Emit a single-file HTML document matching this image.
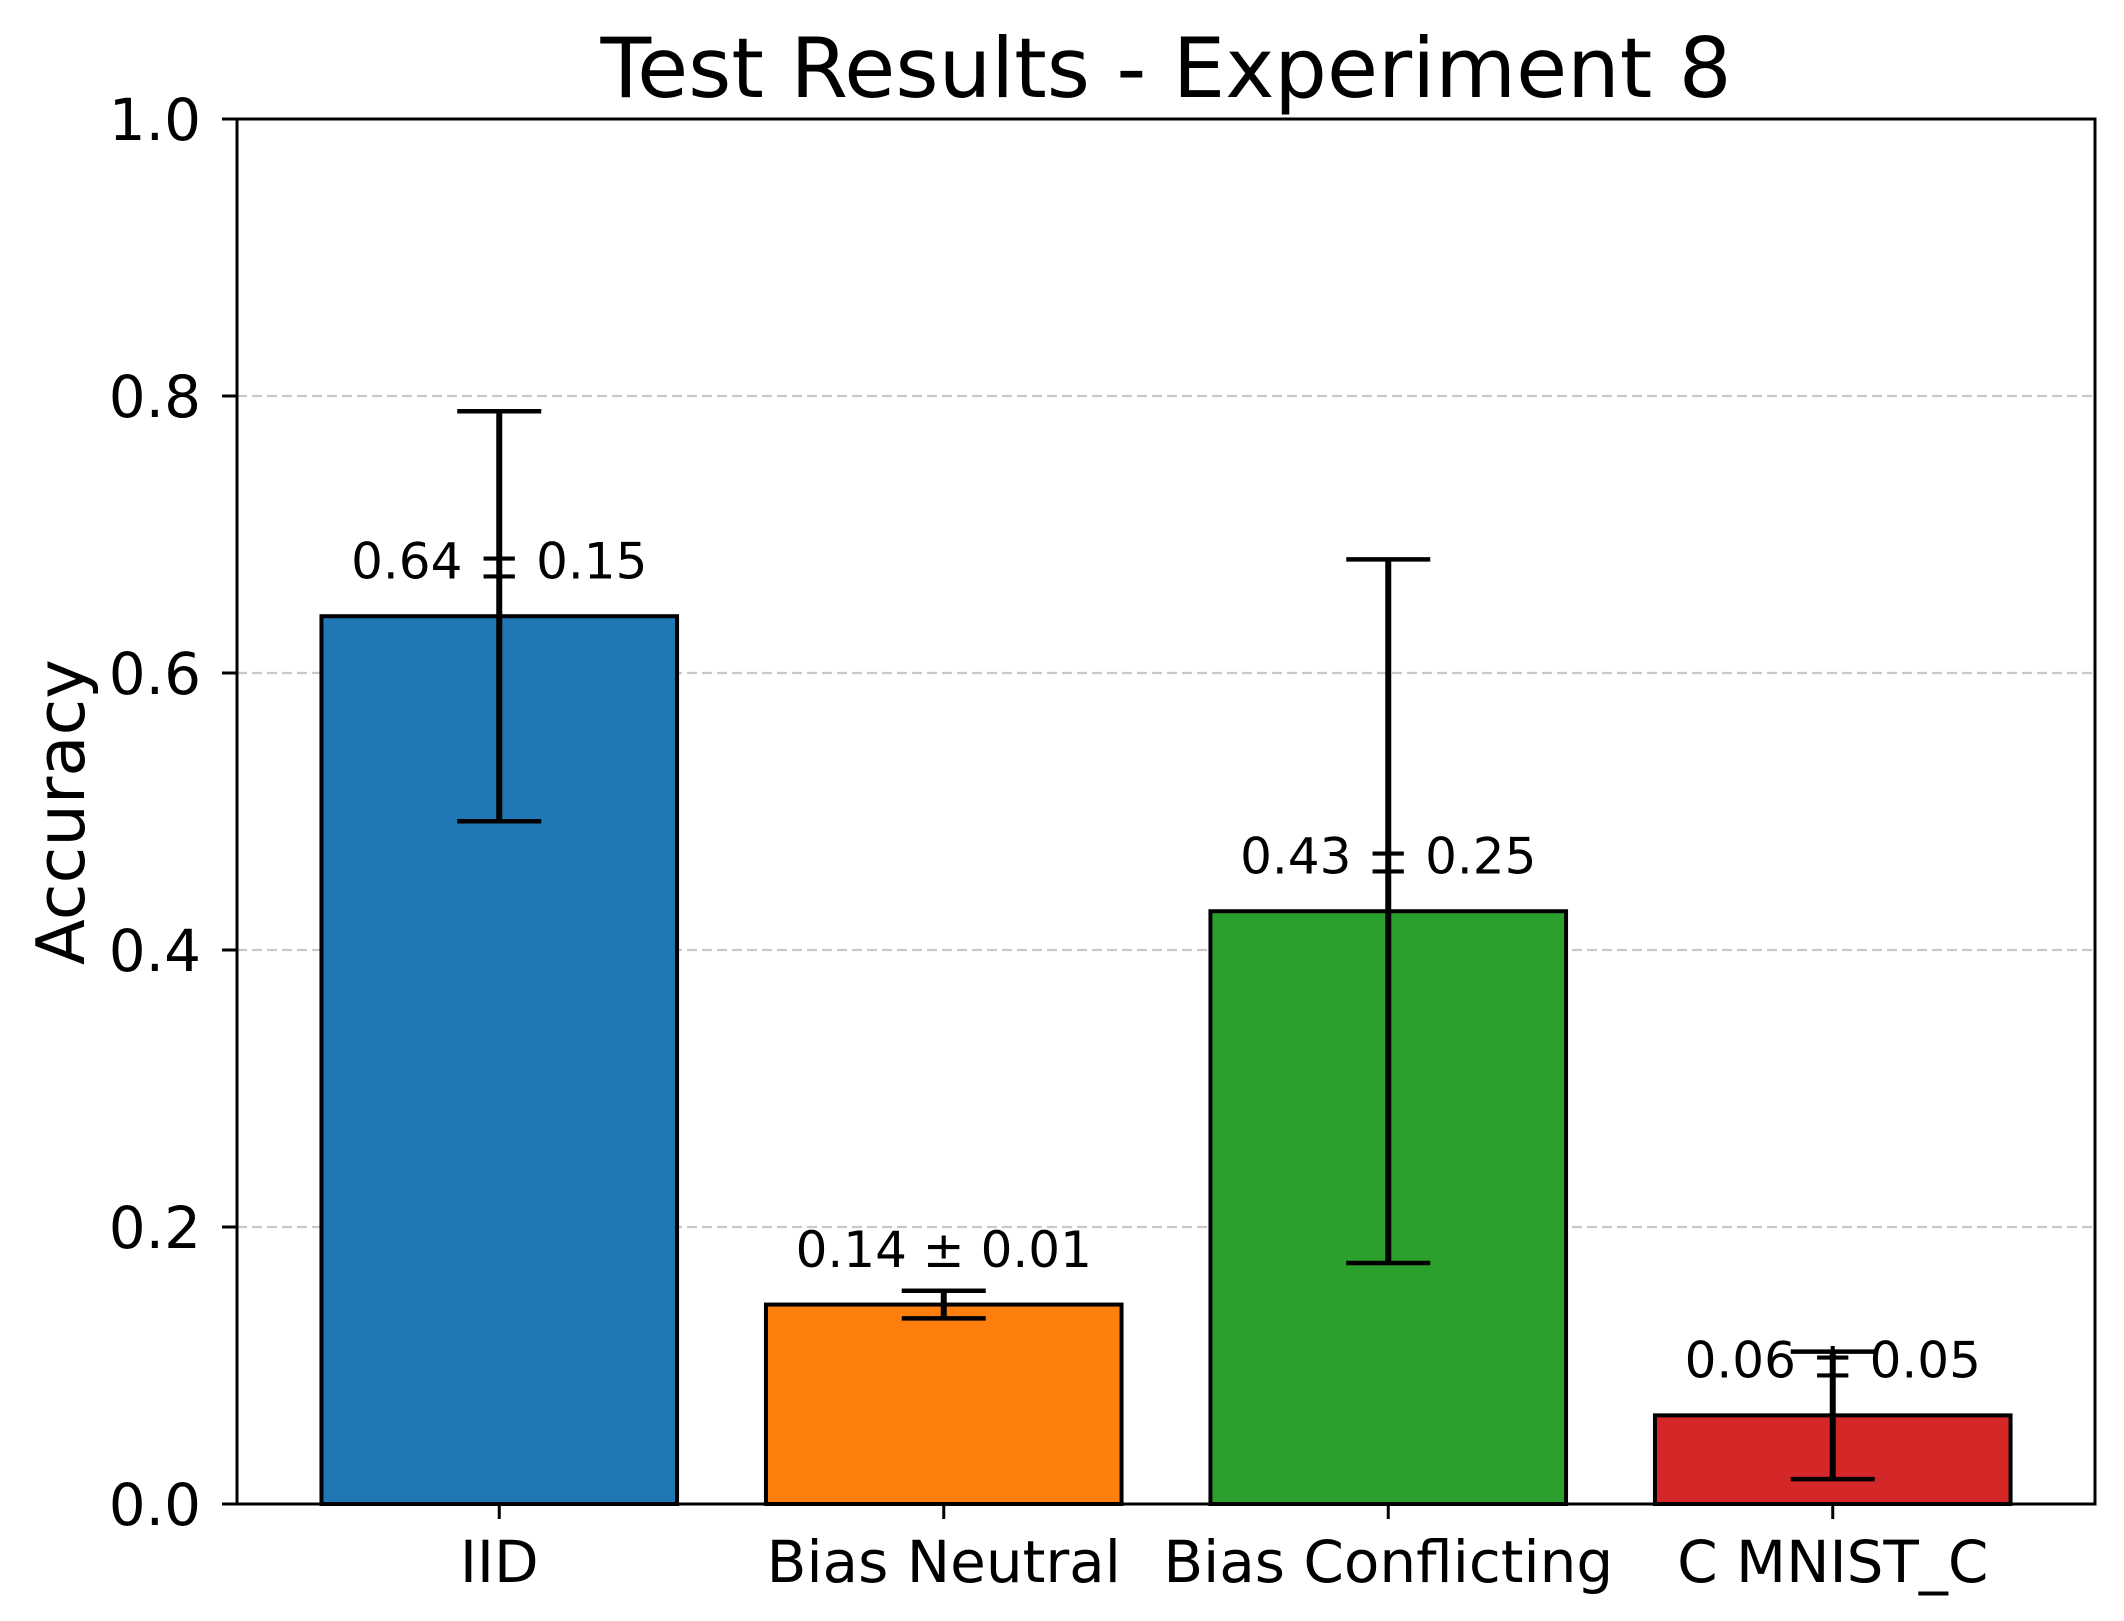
<!DOCTYPE html>
<html><head><meta charset="utf-8"><style>
body{margin:0;background:#fff}
svg{display:block;font-family:"DejaVu Sans","Liberation Sans",sans-serif}
</style></head><body>
<svg id="chart" width="2124" height="1621" viewBox="0 0 2124 1621" xmlns="http://www.w3.org/2000/svg">
<rect width="2124" height="1621" fill="#fff"/>
<text x="1166" y="97" font-size="83" text-anchor="middle">Test Results - Experiment 8</text>
<text transform="translate(84,812) rotate(-90)" font-size="67" text-anchor="middle">Accuracy</text>
<g id="grid"></g><g id="bars"></g><g id="axes"></g>
</svg>
<script>
const categories = ["IID", "Bias Neutral", "Bias Conflicting", "C MNIST_C"];
const means = [0.641, 0.144, 0.428, 0.064];
const errors = [0.148, 0.010, 0.254, 0.046];
const valueLabels = ["0.64 ± 0.15", "0.14 ± 0.01", "0.43 ± 0.25", "0.06 ± 0.05"];
const colors = ["#1f77b4", "#ff7f0e", "#2ca02c", "#d62728"];
const yTicks = [0.0, 0.2, 0.4, 0.6, 0.8, 1.0];
const yTickLabels = ["0.0", "0.2", "0.4", "0.6", "0.8", "1.0"];

const L = 237, R = 2095, T = 119, B = 1504;
const NS = "http://www.w3.org/2000/svg";
const xmin = -0.59, xmax = categories.length - 1 + 0.59;
function xs(i){ return L + (i - xmin) / (xmax - xmin) * (R - L); }
function ys(v){ return B - v * (B - T); }
function mk(tag, attrs, parent){ const e = document.createElementNS(NS, tag); for (const k in attrs) e.setAttribute(k, attrs[k]); parent.appendChild(e); return e; }
const grid = document.getElementById('grid'), bars = document.getElementById('bars'), axes = document.getElementById('axes');

yTicks.forEach((t, i) => {
  const y = ys(t);
  if (t > 0 && t < 1) {
    const g = mk('line', {x1: L, x2: R, y1: y, y2: y, stroke: '#c8c8c8', 'stroke-width': 2.2, 'stroke-dasharray': '10 5'}, grid);
    
    
  }
  const tk = mk('line', {x1: L - 15, x2: L, y1: y, y2: y, stroke: '#000', 'stroke-width': 3}, axes);
  
  
  const tl = mk('text', {x: L - 36, y: y + 21, 'font-size': 58, 'text-anchor': 'end'}, axes);
  tl.textContent = yTickLabels[i];
  
  
});

const bw = 0.8 * (R - L) / (xmax - xmin);
categories.forEach((c, i) => {
  const cx = xs(i), top = ys(means[i]);
  const r = mk('rect', {x: cx - bw/2, y: top, width: bw, height: B - top, fill: colors[i], stroke: '#000', 'stroke-width': 4}, bars);
  
  
  const yHi = ys(means[i] + errors[i]), yLo = ys(means[i] - errors[i]);
  const eb = mk('g', {stroke: '#000'}, bars);
  
  
  mk('line', {x1: cx, x2: cx, y1: yHi, y2: yLo, 'stroke-width': 6}, eb);
  mk('line', {x1: cx - 42, x2: cx + 42, y1: yHi, y2: yHi, 'stroke-width': 4.5}, eb);
  mk('line', {x1: cx - 42, x2: cx + 42, y1: yLo, y2: yLo, 'stroke-width': 4.5}, eb);
  const vl = mk('text', {x: cx, y: ys(means[i] + 0.02) - 10, 'font-size': 50, 'text-anchor': 'middle'}, bars);
  vl.textContent = valueLabels[i];
  
  
  const xt = mk('line', {x1: cx, x2: cx, y1: B, y2: B + 15, stroke: '#000', 'stroke-width': 3}, axes);
  
  
  const xl = mk('text', {x: cx, y: 1582, 'font-size': 58, 'text-anchor': 'middle'}, axes);
  xl.textContent = c;
  
  
});

const frame = mk('rect', {x: L, y: T, width: R - L, height: B - T, fill: 'none', stroke: '#000', 'stroke-width': 3}, axes);


</script>
</body></html>
